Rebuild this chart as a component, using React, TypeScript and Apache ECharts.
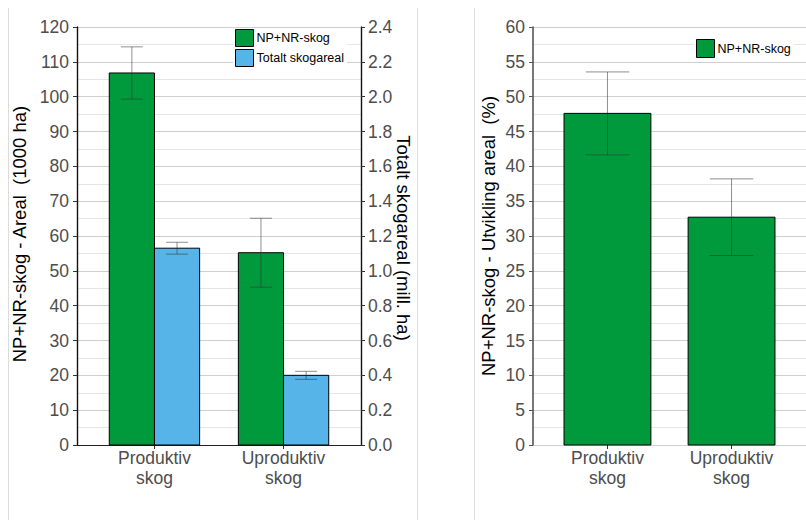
import React, { useEffect, useRef } from "react";
import * as echarts from "echarts";

const categories = ["Produktiv\nskog", "Uproduktiv\nskog"];
const catPos = [1, 2];
// Left panel: NP+NR-skog area (1000 ha) and its error
const npnrAreal = [106.8, 55.2];
const npnrArealErr = [7.5, 9.9];
// Left panel: Totalt skogareal (mill. ha) and its error
const totaltAreal = [1.13, 0.4];
const totaltArealErr = [0.034, 0.023];
// Right panel: NP+NR-skog - Utvikling areal (%)
const utvikling = [47.6, 32.7];
const utviklingErr = [5.95, 5.5];

const GREEN = "#009a3d";
const BLUE = "#56b4e9";
const ERR = "rgba(50,50,50,0.55)";
const FONT = "'Liberation Sans', Arial, sans-serif";
const LABEL = "#4d4d4d";

function makeRender(color: string, off: number, w: number, ew: number) {
  return (params: any, api: any) => {
    const x = api.value(0);
    const y = api.value(1);
    const e = api.value(2);
    const cx = x + off;
    const p0 = api.coord([cx - w / 2, y]);
    const p1 = api.coord([cx + w / 2, 0]);
    const t = api.coord([cx, y + e]);
    const b = api.coord([cx, y - e]);
    const tl = api.coord([cx - ew / 2, y + e]);
    const tr = api.coord([cx + ew / 2, y + e]);
    const bl = api.coord([cx - ew / 2, y - e]);
    const br = api.coord([cx + ew / 2, y - e]);
    const ls = { stroke: ERR, lineWidth: 1 };
    return {
      type: "group",
      children: [
        {
          type: "rect",
          shape: { x: p0[0], y: p0[1], width: p1[0] - p0[0], height: p1[1] - p0[1] },
          style: { fill: color, stroke: "#000", lineWidth: 1 },
        },
        { type: "line", shape: { x1: t[0], y1: t[1], x2: b[0], y2: b[1] }, style: ls },
        { type: "line", shape: { x1: tl[0], y1: tl[1], x2: tr[0], y2: tr[1] }, style: ls },
        { type: "line", shape: { x1: bl[0], y1: bl[1], x2: br[0], y2: br[1] }, style: ls },
      ],
    };
  };
}

function xAxisOpt(gridIndex: number, showLine: boolean) {
  return {
    type: "value",
    gridIndex,
    min: 0.4,
    max: 2.6,
    splitLine: { show: false },
    axisLine: { show: showLine, onZero: false, lineStyle: { color: "#222", width: 1.2 } },
    axisTick: { show: true, customValues: catPos, length: 4, lineStyle: { color: "#333" } },
    axisLabel: {
      customValues: catPos,
      formatter: (v: number) => categories[Math.round(v) - 1] ?? "",
      color: LABEL,
      fontSize: 17.5,
      lineHeight: 20,
      fontFamily: FONT,
      margin: 3,
    },
  };
}

export default function App() {
  const ref = useRef<HTMLDivElement>(null);
  useEffect(() => {
    if (!ref.current) return;
    const chart = echarts.init(ref.current, null, { renderer: "svg" });
    const majorSplit = { show: true, lineStyle: { color: "#cfcfcf", width: 1.2 } };
    const minorSplit = { show: true, lineStyle: { color: "#e6e6e6", width: 1 } };
    const yLabel = { color: LABEL, fontSize: 17.5, fontFamily: FONT, margin: 8 };
    chart.setOption({
      animation: false,
      backgroundColor: "#fff",
      grid: [
        { left: 77, top: 27, width: 284, height: 418 },
        { left: 533, top: 27, width: 284, height: 418 },
      ],
      xAxis: [xAxisOpt(0, true), xAxisOpt(1, false)],
      yAxis: [
        {
          type: "value",
          gridIndex: 0,
          min: 0,
          max: 120,
          interval: 10,
          axisLine: { show: true, lineStyle: { color: "#111", width: 1.4 } },
          axisTick: { show: true, length: 4, lineStyle: { color: "#333" } },
          axisLabel: yLabel,
          splitLine: majorSplit,
          minorTick: { show: false, splitNumber: 2 },
          minorSplitLine: minorSplit,
        },
        {
          type: "value",
          gridIndex: 0,
          position: "right",
          min: 0,
          max: 2.4,
          interval: 0.2,
          axisLine: { show: true, lineStyle: { color: "#111", width: 1.4 } },
          axisTick: { show: true, length: 4, lineStyle: { color: "#333" } },
          axisLabel: { ...yLabel, margin: 7, formatter: (v: number) => v.toFixed(1) },
          splitLine: { show: false },
        },
        {
          type: "value",
          gridIndex: 1,
          min: 0,
          max: 60,
          interval: 5,
          axisLine: { show: true, lineStyle: { color: "#555", width: 1.6 } },
          axisTick: { show: true, length: 4, lineStyle: { color: "#555" } },
          axisLabel: yLabel,
          splitLine: majorSplit,
          minorTick: { show: false, splitNumber: 2 },
          minorSplitLine: minorSplit,
        },
      ],
      legend: [
        {
          left: 233,
          top: 28,
          orient: "vertical",
          selectedMode: false,
          data: ["NP+NR-skog", "Totalt skogareal"],
          icon: "rect",
          itemWidth: 18,
          itemHeight: 17,
          itemGap: 2,
          padding: [1, 3, 1, 2],
          backgroundColor: "#fff",
          itemStyle: { borderColor: "#000", borderWidth: 1 },
          textStyle: { fontSize: 12.5, color: "#000", fontFamily: FONT, padding: [0, 0, 0, -2] },
        },
        {
          left: 694,
          top: 38,
          orient: "vertical",
          selectedMode: false,
          data: ["NP+NR-skog"],
          icon: "rect",
          itemWidth: 18,
          itemHeight: 18,
          padding: [1, 3, 1, 2],
          backgroundColor: "#fff",
          itemStyle: { borderColor: "#000", borderWidth: 1 },
          textStyle: { fontSize: 12.5, color: "#000", fontFamily: FONT, padding: [0, 0, 0, -2] },
        },
      ],
      series: [
        {
          type: "custom",
          name: "NP+NR-skog",
          xAxisIndex: 0,
          yAxisIndex: 0,
          itemStyle: { color: GREEN },
          encode: { x: 0, y: 1 },
          data: catPos.map((x, i) => [x, npnrAreal[i], npnrArealErr[i]]),
          renderItem: makeRender(GREEN, -0.175, 0.35, 0.17),
        },
        {
          type: "custom",
          name: "Totalt skogareal",
          xAxisIndex: 0,
          yAxisIndex: 1,
          itemStyle: { color: BLUE },
          encode: { x: 0, y: 1 },
          data: catPos.map((x, i) => [x, totaltAreal[i], totaltArealErr[i]]),
          renderItem: makeRender(BLUE, 0.175, 0.35, 0.17),
        },
        {
          type: "custom",
          name: "NP+NR-skog",
          xAxisIndex: 1,
          yAxisIndex: 2,
          itemStyle: { color: GREEN },
          encode: { x: 0, y: 1 },
          data: catPos.map((x, i) => [x, utvikling[i], utviklingErr[i]]),
          renderItem: makeRender(GREEN, 0, 0.7, 0.35),
        },
      ],
      graphic: [
        { type: "line", shape: { x1: 8.5, y1: 8, x2: 8.5, y2: 520 }, style: { stroke: "#dcdcdc", lineWidth: 1 } },
        { type: "line", shape: { x1: 417.5, y1: 8, x2: 417.5, y2: 520 }, style: { stroke: "#dcdcdc", lineWidth: 1 } },
        { type: "line", shape: { x1: 474.5, y1: 8, x2: 474.5, y2: 520 }, style: { stroke: "#dcdcdc", lineWidth: 1 } },
        {
          type: "text",
          x: 19,
          y: 234,
          rotation: Math.PI / 2,
          style: {
            text: "NP+NR-skog - Areal  (1000 ha)",
            fontSize: 18.5,
            fontFamily: FONT,
            fill: "#000",
            textAlign: "center",
            textVerticalAlign: "middle",
          },
        },
        {
          type: "text",
          x: 403,
          y: 238,
          rotation: -Math.PI / 2,
          style: {
            text: "Totalt skogareal (mill. ha)",
            fontSize: 18.5,
            fontFamily: FONT,
            fill: "#000",
            textAlign: "center",
            textVerticalAlign: "middle",
          },
        },
        {
          type: "text",
          x: 488,
          y: 236,
          rotation: Math.PI / 2,
          style: {
            text: "NP+NR-skog - Utvikling areal  (%)",
            fontSize: 18.5,
            fontFamily: FONT,
            fill: "#000",
            textAlign: "center",
            textVerticalAlign: "middle",
          },
        },
      ],
    });
    return () => chart.dispose();
  }, []);
  return (
    <div
      ref={ref}
      style={{ position: "absolute", left: 0, top: 0, width: 806, height: 520 }}
    />
  );
}
